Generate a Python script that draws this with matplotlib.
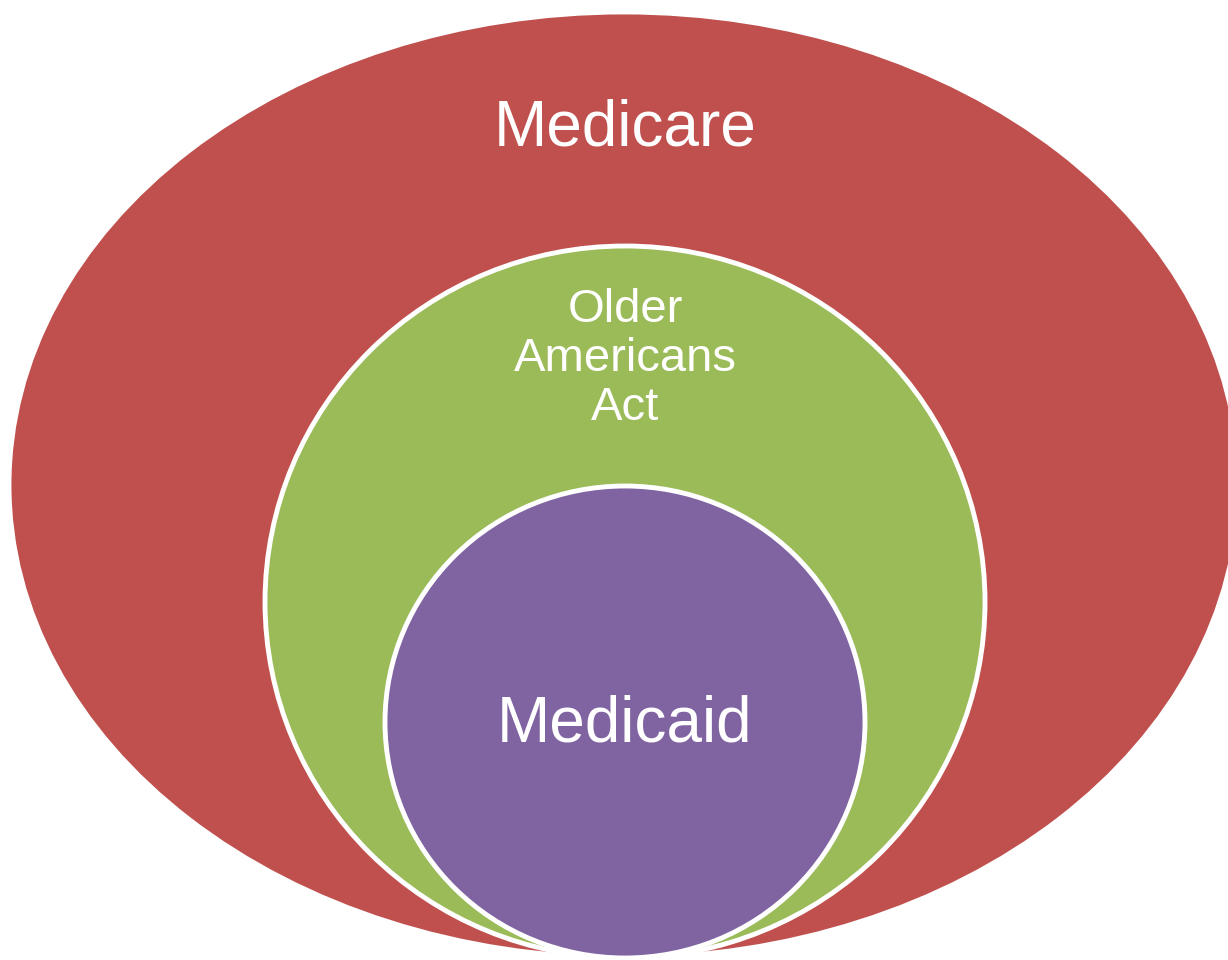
import matplotlib
matplotlib.use("Agg")
from matplotlib import pyplot as plt
from matplotlib.patches import Ellipse

# nested programs, outer to inner
labels = ["Medicare", "Older\nAmericans\nAct", "Medicaid"]
colors = ["#C0504D", "#9BBB59", "#8064A2"]

# ellipse geometry in pixel coords (center x, center y, width, height)
centers = [(624, 485), (625, 602), (625, 722)]
widths = [1230, 720, 480]
heights = [946, 712, 472]
label_pos = [(625, 128), (625, 359), (625, 725)]
font_sizes = [46, 34, 46]

fig = plt.figure(figsize=(12.28, 9.6), dpi=100)
ax = fig.add_axes([0, 0, 1, 1])
ax.set_xlim(0, 1228)
ax.set_ylim(960, 0)
ax.axis("off")

for i in range(len(labels)):
    ax.add_patch(Ellipse(centers[i], widths[i], heights[i],
                         facecolor=colors[i], edgecolor="white", linewidth=3.5))
    ax.text(label_pos[i][0], label_pos[i][1], labels[i], color="white",
            fontsize=font_sizes[i], family="Liberation Sans",
            ha="center", va="center", linespacing=1.15)

fig.savefig("out.png", dpi=100)
